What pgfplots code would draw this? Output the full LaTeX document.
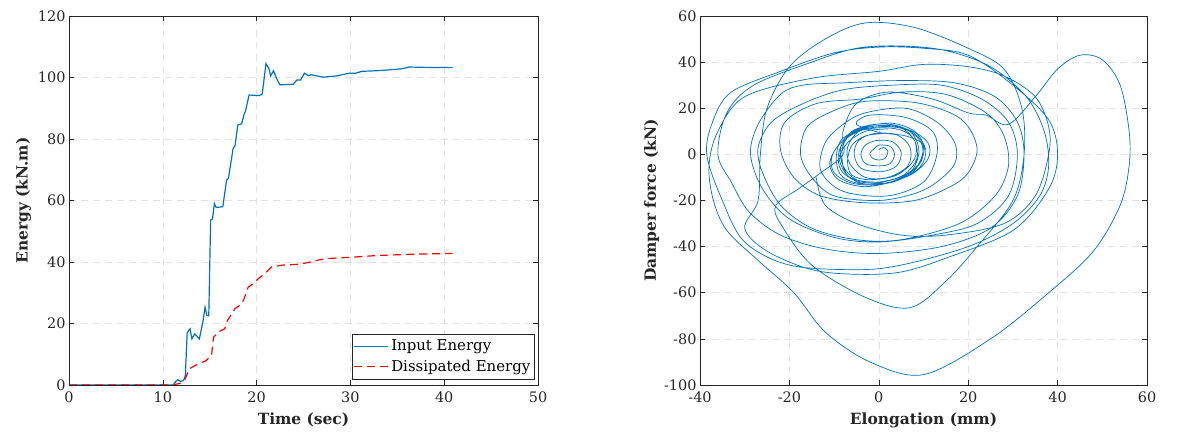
\documentclass[border=0pt]{standalone}
\usepackage{pgfplots}
\pgfplotsset{compat=1.18}
\usepackage{fontspec}
\setmainfont{DejaVu Serif}
\definecolor{mblue}{RGB}{0,114,189}
\definecolor{mgrid}{RGB}{225,225,225}
\definecolor{maxis}{RGB}{38,38,38}
\pgfplotsset{
  mystyle/.style={
    scale only axis,
    axis line style={maxis, line width=0.8pt},
    tick style={maxis, line width=0.6pt},
    major tick length=5bp,
    grid=major,
    major grid style={mgrid, dash pattern=on 7bp off 5bp, line width=0.6pt},
    tick label style={font=\fontsize{14.5}{16}\selectfont, text=maxis},
    xticklabel style={yshift=-3bp},
    label style={font=\bfseries\fontsize{15.5}{18}\selectfont, text=maxis},
    xlabel style={yshift=-3bp},
    /pgf/number format/assume math mode=true,
  }
}
\begin{document}
\begin{tikzpicture}[x=1bp,y=1bp]
\useasboundingbox (0,0) rectangle (1189,441);
\begin{axis}[mystyle,
  at={(69bp,56bp)}, anchor=south west,
  width=469bp, height=369bp,
  xmin=0, xmax=50, ymin=0, ymax=120,
  xtick={0,10,...,50}, ytick={0,20,...,120},
  xlabel={Time (sec)}, ylabel={Energy (kN.m)},
  legend style={at={(0.9925,0.015)}, anchor=south east, font=\fontsize{15}{17}\selectfont, draw=maxis, inner xsep=1pt, inner ysep=4pt, row sep=4pt, nodes={inner xsep=3pt}},
  legend image code/.code={\draw[#1, line width=1.2pt] (0bp,0bp) -- (34bp,0bp);},
  legend cell align=left,
]
\addplot[mblue, line width=1.2pt] coordinates {
(0,0) (11.1,0) (11.4,1.2) (11.6,1.7) (11.9,1.2) (12.2,1.4) (12.4,3) (12.6,17) (12.9,18.3) (13.1,15) (13.4,16.6) (13.9,15) (14.3,21) (14.5,25.3) (14.7,22.6) (14.9,22.5) (15.1,53.6) (15.3,54) (15.5,59) (15.7,57.7) (16.4,58) (16.8,66.6) (17.0,67.2) (17.5,77) (17.7,77.8) (18.0,84.6) (18.4,84.9) (18.7,88.4) (18.8,88.9) (19.2,94.3) (20.3,94.1) (20.6,94.6) (21.0,104.5) (21.3,103) (21.5,100.5) (21.8,102.2) (22.2,99.2) (22.5,97.6) (23.9,97.8) (24.3,99.2) (24.7,99.2) (25.1,101.4) (25.5,100.6) (25.8,100.9) (27.1,100.1) (28.5,100.5) (29.9,101.4) (30.6,101.4) (31.2,102) (32.8,102.2) (34.2,102.5) (35.4,102.8) (36.3,103.4) (37.7,103.3) (40.9,103.2)
};
\addlegendentry{Input Energy}
\addplot[red, line width=1.2pt, dash pattern=on 8bp off 5bp] coordinates {
(0,0) (11.0,0) (11.8,0.5) (12.4,2) (12.8,5.2) (13.6,6.6) (14.6,7.9) (15.2,9.6) (15.4,15.5) (15.9,17.2) (16.6,18.3) (16.9,21) (17.7,24.8) (18.2,25.9) (18.6,27.5) (19.1,31.8) (19.6,32.9) (20.2,34.6) (20.9,36.3) (21.6,38.4) (22.8,39) (24.2,39.2) (25.3,39.7) (26.4,40.5) (27.4,41.1) (29.9,41.5) (32.8,42.1) (36.3,42.5) (40.9,42.8)
};
\addlegendentry{Dissipated Energy}
\end{axis}
\begin{axis}[mystyle,
  at={(700bp,56bp)}, anchor=south west,
  width=447bp, height=369bp,
  xmin=-40, xmax=60, ymin=-100, ymax=60,
  xtick={-40,-20,...,60}, ytick={-100,-80,...,60},
  xlabel={Elongation (mm)}, ylabel={Damper force (kN)},
  ylabel style={yshift=-2bp},
]
\addplot[mblue, line width=0.7pt, smooth, tension=0.55] coordinates {
(0,2) (1,3) (2,1.5) (1.5,-1.5) (0,-2.5) (-1.5,-1.5) (-2,0.5) (-1,2.5) (0,4) (2.5,3.5) (3.5,0) (2.5,-4) (0,-5) (-3,-4) (-4,0) (-3,4) (-0.5,6) (3,5.5) (5,1) (4,-5) (0.5,-7.5) (-4,-6) (-5.5,0) (-4.5,6) (-1,9) (4,8.5) (7,3) (6.5,-5) (2,-10) (-3,-10) (-6.5,-4) (-7,3) (-4.5,10) (0,12.5) (5,11.5) (8,6) (8.5,-2) (5.5,-9) (0,-12) (-5,-11) (-8,-5) (-8.5,3) (-6,10) (-1,13) (4,12.5) (7.5,9) (9,1) (7,-8) (2,-12.5) (-4,-12.5) (-7.5,-8) (-9,0) (-7,8) (-3,12) (3,13.5) (8,10) (10,3) (8,-7) (3,-11) (-3,-13) (-8,-10) (-9.5,-3) (-8.5,6) (-4,11) (1,12.5) (6,11) (9.5,5) (9.5,-3) (6,-9) (0,-12) (-6,-10.5) (-8,-5) (-8,4) (-5.5,9.5) (0,11.5) (5,10.5) (8,6) (8,-2) (4,-9) (-2,-11) (-6,-9) (-7,-3) (-6,4) (-3,8) (1,9)
};
\addplot[mblue, line width=0.7pt, smooth, tension=0.55] coordinates {
(1,9) (6,8) (10,4) (9,-4) (4,-11) (-3,-14) (-9,-11) (-11,-4) (-9,4) (-5,10) (1,12) (7,10.5) (11,5) (11,-2) (7,-9) (0,-13) (-6,-12.5) (-10,-8) (-10.5,-1) (-8,6) (-3,11) (3,12) (8,9) (10.5,2) (9,-6) (3,-12) (-4,-12) (-8,-8) (-9,-2) (-7,5) (-3,10) (2,11)
};
\addplot[mblue, line width=0.7pt, smooth, tension=0.55] coordinates {
(1,9) (-5,13) (-2,17) (6,16) (12,10) (13,0) (10,-12) (2,-18) (-8,-16) (-13,-7) (-12,5) (-8,13) (-3,18) (6,20) (13,14) (17,5) (17,-4) (13,-12) (8,-17) (0,-20) (-10,-18) (-15,-10) (-17.5,0) (-16,12) (-10,19) (-3,23) (8,22.5) (16,18) (20,12) (22,2) (20,-8) (16,-14) (8,-20) (-3,-21) (-13,-18) (-19,-10) (-22,2) (-21,14) (-14,22) (-4,24)
(5,27) (15,26) (24,18) (28,8) (29,-5) (26,-18) (18,-30) (5,-37) (-5,-37) (-15,-32) (-22,-22) (-26,-8) (-27,3) (-24,14) (-17,22) (-8,28) (3,30) (14,30) (23,24) (29,14) (31,0) (29,-18) (22,-30) (12,-35) (0,-38) (-10,-36) (-20,-28) (-26,-15) (-28.7,0) (-27,13) (-22,26) (-17,30) (-8,31) (5,32) (17,31) (26,25) (31,14) (32.5,0) (31,-18) (25,-32) (14,-40) (0,-43) (-12,-41) (-22,-35) (-29,-25) (-33,-12) (-36,0) (-34,18) (-28,30) (-15,40) (-5,46) (5,47) (15,45) (25,38) (33,25) (37,10) (38,-5) (36,-18) (30,-30) (20,-40) (5,-48) (-5,-50) (-20,-48) (-30,-38) (-35,-20) (-38.5,0) (-37,15) (-33,27) (-22,36) (-10,44) (0,46.5) (10,46) (20,43) (30,30) (38,15) (40,0) (38,-15) (30,-33) (15,-45) (5,-51) (-5,-52) (-15,-50) (-25,-42) (-30,-32) (-27,-20) (-26.5,0) (-25,20) (-20,38) (-12,50) (-3,57) (8,55) (20,46) (28,37) (32,20) (32.5,0) (30,-20) (22,-40) (15,-55) (7,-66.5) (-3,-62) (-15,-48) (-22,-30) (-23,-22) (-18,-15) (-13,-8) (-8,0) (-8,10) (-5,22) (2,27) (12,24) (20,18) (24,17) (29,13) (35,25) (40,37) (45,43) (50,41) (54,30) (56,10) (56,-5) (54,-22) (48,-42) (38,-60) (25,-80) (10,-95.5) (-2,-90) (-12,-77) (-19,-60) (-27,-46) (-34,-33) (-37,-20) (-38,-5) (-36,10) (-30,25) (-15,33) (0,36) (10,39) (20,38) (28,34) (35,25) (38,12) (38,0) (35,-18) (28,-30) (15,-35) (5,-35) (-5,-30) (-12,-22) (-14,-10)
};
\end{axis}
\end{tikzpicture}
\end{document}
